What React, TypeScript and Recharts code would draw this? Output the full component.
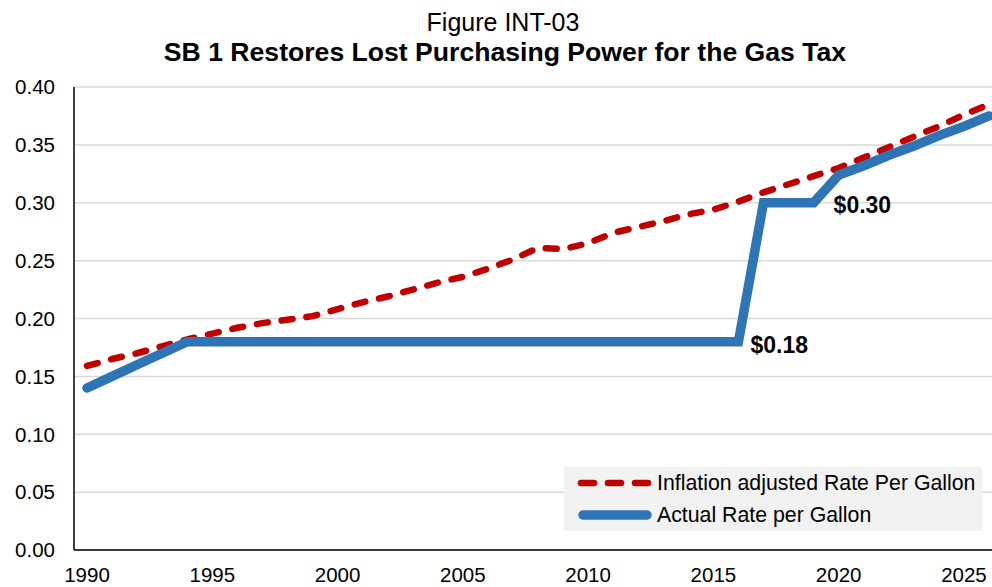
import { LineChart, Line, XAxis, YAxis, CartesianGrid, Legend } from 'recharts';

const FONT = '"Liberation Sans", Arial, Helvetica, sans-serif';
const RED = '#C00000';
const BLUE = '#2E75B6';

const years = [
  1990, 1991, 1992, 1993, 1994, 1995, 1996, 1997, 1998, 1999,
  2000, 2001, 2002, 2003, 2004, 2005, 2006, 2007, 2008, 2009,
  2010, 2011, 2012, 2013, 2014, 2015, 2016, 2017, 2018, 2019,
  2020, 2021, 2022, 2023, 2024, 2025, 2026,
];

// inflation adjusted rate ($ per gallon)
const inflationRate = [
  0.159, 0.165, 0.17, 0.176, 0.182, 0.187, 0.192, 0.196, 0.199, 0.202,
  0.208, 0.214, 0.219, 0.225, 0.231, 0.236, 0.243, 0.251, 0.261, 0.26,
  0.265, 0.274, 0.279, 0.284, 0.29, 0.294, 0.301, 0.309, 0.316, 0.323,
  0.33, 0.339, 0.348, 0.357, 0.366, 0.376, 0.385,
];

// actual excise rate ($ per gallon)
const actualRate = [
  0.14, 0.15, 0.16, 0.17, 0.18, 0.18, 0.18, 0.18, 0.18, 0.18,
  0.18, 0.18, 0.18, 0.18, 0.18, 0.18, 0.18, 0.18, 0.18, 0.18,
  0.18, 0.18, 0.18, 0.18, 0.18, 0.18, 0.18, 0.3, 0.3, 0.3,
  0.324, 0.332, 0.341, 0.349, 0.358, 0.366, 0.375,
];

const xTicks = [1990, 1995, 2000, 2005, 2010, 2015, 2020, 2025];
const yTicks = [0, 0.05, 0.1, 0.15, 0.2, 0.25, 0.3, 0.35, 0.4];

const calloutYears = [2016, 2019];
const calloutTexts = ['$0.18', '$0.30'];
const calloutOffsets: Record<number, { dx: number; dy: number }> = {
  2016: { dx: 12, dy: 11 },
  2019: { dx: 20, dy: 10 },
};

const data = years.map((year, i) => ({
  year,
  inflation: inflationRate[i],
  actual: actualRate[i],
}));

const tickStyle = { fontSize: 20.5, fill: '#000', fontFamily: FONT };

const renderCallout = (props: any) => {
  const year = years[props.index];
  const k = calloutYears.indexOf(year);
  if (k < 0) return <g key={`c-${props.index}`} />;
  const off = calloutOffsets[year];
  return (
    <text
      key={`c-${props.index}`}
      x={props.x + off.dx}
      y={props.y + off.dy}
      fontSize={23}
      fontWeight="bold"
      fontFamily={FONT}
      fill="#000"
    >
      {calloutTexts[k]}
    </text>
  );
};

const LegendBox = ({ payload }: any) => {
  const items = payload || [];
  const red = items.find((p: any) => p.dataKey === 'inflation');
  const blue = items.find((p: any) => p.dataKey === 'actual');
  return (
    <svg width={418} height={64} style={{ display: 'block' }}>
      <rect width={418} height={64} fill="#f2f2f2" />
      <line x1={17} x2={84} y1={16} y2={16} stroke={RED} strokeWidth={6.5} strokeDasharray="13 14" strokeLinecap="round" />
      <text x={93} y={23} fontSize={21.3} fontFamily={FONT} fill="#000">
        {red ? red.value : ''}
      </text>
      <line x1={19} x2={83} y1={48} y2={48} stroke={BLUE} strokeWidth={9.5} strokeLinecap="round" />
      <text x={93} y={55} fontSize={21.3} fontFamily={FONT} fill="#000">
        {blue ? blue.value : ''}
      </text>
    </svg>
  );
};

export default function App() {
  return (
    <div style={{ position: 'absolute', left: 0, top: 0, width: 992, height: 587, background: '#fff', fontFamily: FONT }}>
      <svg width={992} height={80} style={{ position: 'absolute', left: 0, top: 0 }}>
        <text x={503} y={31} textAnchor="middle" fontSize={25} fontFamily={FONT} fill="#000">
          Figure INT-03
        </text>
        <text x={505} y={61} textAnchor="middle" fontSize={26.6} fontWeight="bold" fontFamily={FONT} fill="#000">
          SB 1 Restores Lost Purchasing Power for the Gas Tax
        </text>
      </svg>
      <LineChart width={992} height={587} data={data} margin={{ top: 87, right: 0, bottom: 0, left: 0 }}>
        <CartesianGrid vertical={false} stroke="#d9d9d9" strokeWidth={1.5} />
        <XAxis
          dataKey="year"
          type="number"
          domain={[1989.48, 2026.12]}
          allowDataOverflow
          ticks={xTicks}
          height={37}
          tick={tickStyle}
          tickLine={false}
          tickSize={4}
          tickMargin={13}
          axisLine={{ stroke: '#000', strokeWidth: 1.5 }}
        />
        <YAxis
          domain={[0, 0.4]}
          ticks={yTicks}
          width={74}
          tick={tickStyle}
          tickFormatter={(v: number) => v.toFixed(2)}
          tickLine={false}
          tickSize={6}
          tickMargin={13}
          axisLine={{ stroke: '#000', strokeWidth: 1.5 }}
        />
        <Legend
          layout="horizontal"
          verticalAlign="middle"
          align="center"
          content={<LegendBox />}
          wrapperStyle={{ left: 564, top: 467, width: 418, height: 64 }}
        />
        <Line
          dataKey="inflation"
          name="Inflation adjusted Rate Per Gallon"
          stroke={RED}
          strokeWidth={6.5}
          strokeDasharray="11 14"
          strokeLinecap="round"
          dot={false}
          activeDot={false}
          isAnimationActive={false}
        />
        <Line
          dataKey="actual"
          name="Actual Rate per Gallon"
          stroke={BLUE}
          strokeWidth={9.5}
          strokeLinecap="round"
          dot={false}
          activeDot={false}
          label={renderCallout}
          isAnimationActive={false}
        />
      </LineChart>
    </div>
  );
}
